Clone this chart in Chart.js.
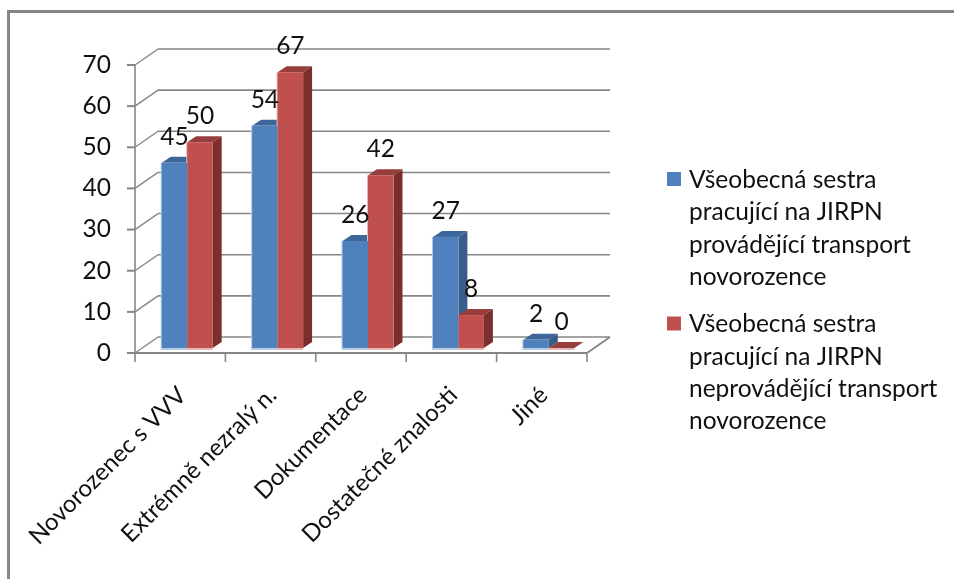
<!DOCTYPE html>
<html lang="cs">
<head>
<meta charset="utf-8">
<title>Graf</title>
<script src="https://cdn.jsdelivr.net/npm/chart.js@4"></script>
<style>
  html, body { margin: 0; padding: 0; background: #fff; }
  #wrap { width: 954px; height: 579px; }
</style>
</head>
<body>
<div id="wrap"><canvas id="c" width="954" height="579"></canvas></div>
<script>
// Kategorie a hodnoty grafu
const categories = ['Novorozenec s VVV', 'Extrémně nezralý n.', 'Dokumentace', 'Dostatečné znalosti', 'Jiné'];
const transportValues = [45, 54, 26, 27, 2];
const noTransportValues = [50, 67, 42, 8, 0];
const seriesOneLines = ['Všeobecná sestra', 'pracující na JIRPN', 'provádějící transport', 'novorozence'];
const seriesTwoLines = ['Všeobecná sestra', 'pracující na JIRPN', 'neprovádějící transport', 'novorozence'];
const yTicks = [0, 10, 20, 30, 40, 50, 60, 70];

const FONT = 'Lato, "Open Sans", sans-serif';
const FONT_SIZE = 24.5;
const X_FONT_SIZE = 24;
const TEXT = '#111';
const AXIS = '#868686';
const WALL = { dx: 23, dy: -16 };      // hloubka stěn grafu
const BAR_SHIFT = { dx: 7, dy: -5 };   // sloupce stojí uprostřed podlahy
const BAR_DEPTH = { dx: 9, dy: -6 };   // hloubka sloupce

const palette = [
  { front: '#4f81bd', top: '#3c6798', side: '#385d8a', rim: '#b9cde5' },
  { front: '#c0504d', top: '#963e3c', side: '#7b2f2d', rim: '#e6b9b8' }
];

function poly(ctx, pts, fill) {
  ctx.beginPath();
  pts.forEach((p, i) => i ? ctx.lineTo(p[0], p[1]) : ctx.moveTo(p[0], p[1]));
  ctx.closePath();
  ctx.fillStyle = fill;
  ctx.fill();
}

function seg(ctx, x1, y1, x2, y2, w, col) {
  ctx.beginPath();
  ctx.moveTo(x1, y1);
  ctx.lineTo(x2, y2);
  ctx.lineWidth = w;
  ctx.strokeStyle = col || AXIS;
  ctx.stroke();
}

// Rám, stěny, mřížka a hloubka sloupců pseudo-3D grafu
const frame3d = {
  id: 'frame3d',
  beforeDatasetsDraw(chart) {
    const { ctx, scales: { x, y } } = chart;
    const left = x.left, right = x.right, floor = y.getPixelForValue(0);
    ctx.save();
    seg(ctx, 8.5, 579, 8.5, 11.5, 3);
    seg(ctx, 7, 11.5, 954, 11.5, 3);
    yTicks.forEach(v => {
      const py = y.getPixelForValue(v);
      seg(ctx, left + WALL.dx, py + WALL.dy, right + WALL.dx, py + WALL.dy, 1.6);
      seg(ctx, left, py, left + WALL.dx, py + WALL.dy, 1.4);
      seg(ctx, left - 8, py, left, py, 2);
    });
    seg(ctx, left, y.getPixelForValue(70), left, floor + 9, 1.6);
    seg(ctx, left, floor, right, floor, 2);
    seg(ctx, right, floor, right + WALL.dx, floor + WALL.dy, 2);
    categories.forEach((_, i) => {
      const px = left + (right - left) * (i + 1) / categories.length;
      seg(ctx, px, floor, px, floor + 9, 1.6);
    });
    ctx.restore();

    // Všechny boční a horní stěny se kreslí před čely sloupců
    ctx.save();
    ctx.translate(BAR_SHIFT.dx, BAR_SHIFT.dy);
    chart.getSortedVisibleDatasetMetas().forEach(meta => {
      const c = palette[meta.index];
      meta.data.forEach(el => {
        const l = el.x - el.width / 2, r = el.x + el.width / 2;
        const d = BAR_DEPTH;
        poly(ctx, [[l, el.y], [l + d.dx, el.y + d.dy], [r + d.dx, el.y + d.dy], [r, el.y]], c.top);
        poly(ctx, [[r, el.y], [r + d.dx, el.y + d.dy], [r + d.dx, el.base + d.dy], [r, el.base]], c.side);
        ctx.fillStyle = c.rim;
        ctx.fillRect(l - 1, el.y, el.width + 1, el.base - el.y + 2);
      });
    });
  },
  afterDatasetsDraw(chart) {
    const { ctx } = chart;
    // Popisky hodnot nad sloupci
    ctx.font = FONT_SIZE + 'px ' + FONT;
    ctx.fillStyle = TEXT;
    ctx.textAlign = 'center';
    ctx.textBaseline = 'middle';
    chart.getSortedVisibleDatasetMetas().forEach(meta => {
      const values = chart.data.datasets[meta.index].data;
      meta.data.forEach((el, i) => ctx.fillText(values[i], el.x, el.y - 26));
    });
    ctx.restore();

    // Legenda vpravo
    const lineH = 32.3;
    [[seriesOneLines, 180], [seriesTwoLines, 324.5]].forEach(([lines, top], k) => {
      ctx.fillStyle = palette[k].front;
      ctx.fillRect(667, top - 8, 14, 14);
      ctx.fillStyle = TEXT;
      ctx.textAlign = 'left';
      ctx.textBaseline = 'middle';
      ctx.font = FONT_SIZE + 'px ' + FONT;
      lines.forEach((t, j) => ctx.fillText(t, 689, top + j * lineH));
    });
  }
};

new Chart(document.getElementById('c'), {
  type: 'bar',
  data: {
    labels: categories,
    datasets: [
      { label: seriesOneLines.join(' '), data: transportValues, backgroundColor: palette[0].front },
      { label: seriesTwoLines.join(' '), data: noTransportValues, backgroundColor: palette[1].front }
    ]
  },
  plugins: [frame3d],
  options: {
    responsive: false,
    animation: false,
    layout: { padding: { left: 0, top: 65, right: 367, bottom: 0 } },
    plugins: { legend: { display: false }, tooltip: { enabled: false }, title: { display: false } },
    datasets: { bar: { categoryPercentage: 0.564, barPercentage: 1 } },
    scales: {
      x: {
        grid: { display: false, drawTicks: false },
        border: { display: false },
        ticks: {
          minRotation: 45, maxRotation: 45, autoSkip: false,
          padding: 28, labelOffset: 2, color: TEXT, font: { family: FONT, size: X_FONT_SIZE }
        },
        afterFit(s) { s.height = 226; s.paddingLeft = 0; s.paddingRight = 0; }
      },
      y: {
        min: 0, max: 70,
        grid: { display: false, drawTicks: false },
        border: { display: false },
        ticks: {
          stepSize: 10, padding: 24, color: TEXT, font: { family: FONT, size: FONT_SIZE }
        },
        afterFit(s) { s.width = 135; }
      }
    }
  }
});
</script>
</body>
</html>
